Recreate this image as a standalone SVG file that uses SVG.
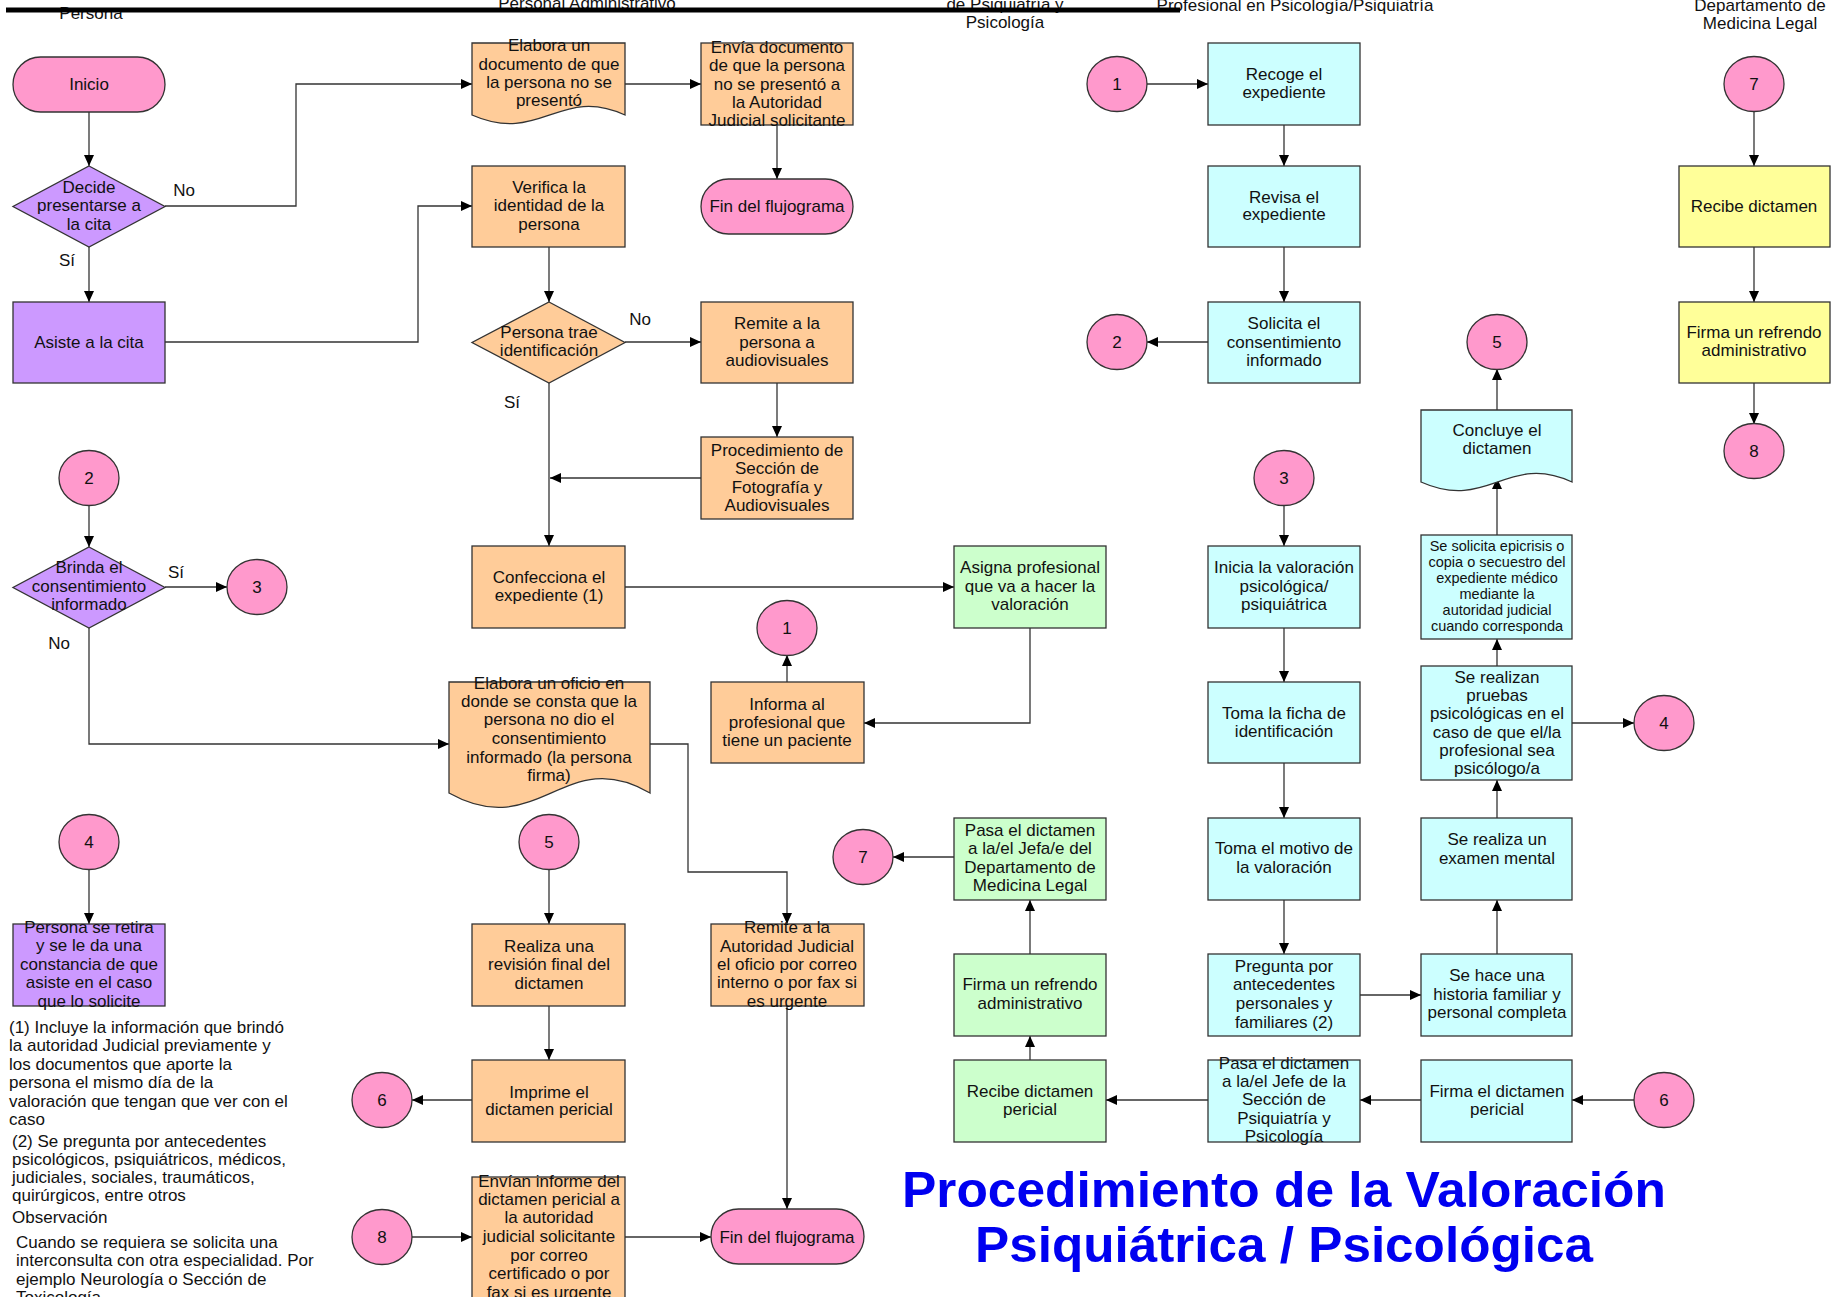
<svg xmlns="http://www.w3.org/2000/svg" width="1838" height="1297" viewBox="0 0 1838 1297">
<style>
text{font-family:"Liberation Sans",Arial,sans-serif;font-size:17px;fill:#111}
.c{text-anchor:middle}
.sm{font-size:14.5px}
.bx{stroke:#333;stroke-width:1.3}
.pk{fill:#FF99CC}.pu{fill:#CC99FF}.or{fill:#FFCC99}.cy{fill:#CCFFFF}.gr{fill:#CCFFCC}.ye{fill:#FFFF99}
.ln{fill:none;stroke:#333;stroke-width:1.3;marker-end:url(#ah)}
.title{font-size:50px;font-weight:bold;fill:#0000F0;text-anchor:middle}
</style>
<defs>
<marker id="ah" markerUnits="userSpaceOnUse" markerWidth="11" markerHeight="10" refX="11" refY="5" orient="auto">
<path d="M0,0 L11,5 L0,10 Z" fill="#000"/>
</marker>
</defs>
<rect width="1838" height="1297" fill="#fff"/>

<g id="headers">
<text class="c" x="91" y="19">Persona</text>
<text class="c" x="587" y="9">Personal Administrativo</text>
<text class="c" x="1005" y="10">de Psiquiatría y</text>
<text class="c" x="1005" y="28">Psicología</text>
<text class="c" x="1295" y="11">Profesional en Psicología/Psiquiatría</text>
<text class="c" x="1760" y="11">Departamento de</text>
<text class="c" x="1760" y="29">Medicina Legal</text>
<line x1="6" y1="10" x2="1180" y2="10" stroke="#000" stroke-width="5"/>
</g>

<g id="connectors">
<path class="ln" d="M89,112 V166"/>
<path class="ln" d="M89,247 V302"/>
<path class="ln" d="M165,206 H296 V84 H472"/>
<path class="ln" d="M165,342 H418 V206 H472"/>
<path class="ln" d="M625,84 H701"/>
<path class="ln" d="M777,125 V179"/>
<path class="ln" d="M549,247 V302"/>
<path class="ln" d="M625,342 H701"/>
<path class="ln" d="M777,383 V437"/>
<path class="ln" d="M701,478 H550"/>
<path class="ln" d="M549,383 V546"/>
<path class="ln" d="M89,506 V547"/>
<path class="ln" d="M165,587 H227"/>
<path class="ln" d="M89,628 V744 H449"/>
<path class="ln" d="M625,587 H954"/>
<path class="ln" d="M1030,628 V723 H864"/>
<path class="ln" d="M787,682 V655"/>
<path class="ln" d="M650,744 H688 V872 H787 V924"/>
<path class="ln" d="M787,1006 V1209"/>
<path class="ln" d="M89,870 V924"/>
<path class="ln" d="M549,870 V924"/>
<path class="ln" d="M549,1006 V1060"/>
<path class="ln" d="M472,1100 H412"/>
<path class="ln" d="M412,1237 H472"/>
<path class="ln" d="M625,1237 H711"/>
<path class="ln" d="M1147,84 H1208"/>
<path class="ln" d="M1284,125 V166"/>
<path class="ln" d="M1284,247 V302"/>
<path class="ln" d="M1208,342 H1147"/>
<path class="ln" d="M1284,506 V546"/>
<path class="ln" d="M1284,628 V682"/>
<path class="ln" d="M1284,763 V818"/>
<path class="ln" d="M1284,900 V954"/>
<path class="ln" d="M1360,995 H1421"/>
<path class="ln" d="M1497,954 V900"/>
<path class="ln" d="M1497,818 V780"/>
<path class="ln" d="M1497,666 V639"/>
<path class="ln" d="M1497,535 V478"/>
<path class="ln" d="M1497,410 V369"/>
<path class="ln" d="M1572,723 H1634"/>
<path class="ln" d="M1634,1100 H1572"/>
<path class="ln" d="M1421,1100 H1360"/>
<path class="ln" d="M1208,1100 H1106"/>
<path class="ln" d="M1030,1060 V1036"/>
<path class="ln" d="M1030,954 V900"/>
<path class="ln" d="M954,857 H893"/>
<path class="ln" d="M1754,112 V166"/>
<path class="ln" d="M1754,247 V302"/>
<path class="ln" d="M1754,383 V424"/>
</g>

<g id="labels">
<text class="c" x="184" y="196">No</text>
<text class="c" x="67" y="266">Sí</text>
<text class="c" x="640" y="325">No</text>
<text class="c" x="512" y="408">Sí</text>
<text class="c" x="176" y="578">Sí</text>
<text class="c" x="59" y="649">No</text>
</g>

<!-- Column 1 -->
<g id="inicio"><rect class="bx pk" x="13" y="57" width="152" height="55" rx="27.5"/><text class="c" x="89" y="90">Inicio</text></g>
<g id="decide"><path class="bx pu" d="M89,166 L165,206.5 L89,247 L13,206.5 Z"/><text class="c" x="89"><tspan x="89" y="193">Decide</tspan><tspan x="89" y="211">presentarse a</tspan><tspan x="89" y="230">la cita</tspan></text></g>
<g id="asiste"><rect class="bx pu" x="13" y="302" width="152" height="81"/><text class="c" x="89" y="348">Asiste a la cita</text></g>
<g id="c2a"><ellipse class="bx pk" cx="89" cy="478" rx="30" ry="27.5"/><text class="c" x="89" y="484">2</text></g>
<g id="brinda"><path class="bx pu" d="M89,547 L165,587.5 L89,628 L13,587.5 Z"/><text class="c"><tspan x="89" y="573">Brinda el</tspan><tspan x="89" y="592">consentimiento</tspan><tspan x="89" y="610">informado</tspan></text></g>
<g id="c3a"><ellipse class="bx pk" cx="257" cy="587" rx="30" ry="27.5"/><text class="c" x="257" y="593">3</text></g>
<g id="c4a"><ellipse class="bx pk" cx="89" cy="842" rx="30" ry="27.5"/><text class="c" x="89" y="848">4</text></g>
<g id="retira"><rect class="bx pu" x="13" y="924" width="152" height="82"/><text class="c"><tspan x="89" y="933">Persona se retira</tspan><tspan x="89" y="951">y se le da una</tspan><tspan x="89" y="970">constancia de que</tspan><tspan x="89" y="988">asiste en el caso</tspan><tspan x="89" y="1007">que lo solicite</tspan></text></g>

<g id="notes">
<text><tspan x="9" y="1033">(1) Incluye la información que brindó</tspan><tspan x="9" y="1051">la autoridad Judicial previamente y</tspan><tspan x="9" y="1070">los documentos que aporte la</tspan><tspan x="9" y="1088">persona el mismo día de la</tspan><tspan x="9" y="1107">valoración que tengan que ver con el</tspan><tspan x="9" y="1125">caso</tspan></text>
<text><tspan x="12" y="1147">(2) Se pregunta por antecedentes</tspan><tspan x="12" y="1165">psicológicos, psiquiátricos, médicos,</tspan><tspan x="12" y="1183">judiciales, sociales, traumáticos,</tspan><tspan x="12" y="1201">quirúrgicos, entre otros</tspan></text>
<text x="12" y="1223">Observación</text>
<text><tspan x="16" y="1248">Cuando se requiera se solicita una</tspan><tspan x="16" y="1266">interconsulta con otra especialidad. Por</tspan><tspan x="16" y="1285">ejemplo Neurología o Sección de</tspan><tspan x="16" y="1303">Toxicología</tspan></text>
</g>

<!-- Column 2 -->
<g id="elaboradoc"><path class="bx or" d="M472,43 H625 V115 C560,85 540,145 472,115 Z"/><text class="c"><tspan x="549" y="51">Elabora un</tspan><tspan x="549" y="70">documento de que</tspan><tspan x="549" y="88">la persona no se</tspan><tspan x="549" y="106">presentó</tspan></text></g>
<g id="verifica"><rect class="bx or" x="472" y="166" width="153" height="81"/><text class="c"><tspan x="549" y="193">Verifica la</tspan><tspan x="549" y="211">identidad de la</tspan><tspan x="549" y="230">persona</tspan></text></g>
<g id="trae"><path class="bx or" d="M549,302 L625,342.5 L549,383 L472,342.5 Z"/><text class="c"><tspan x="549" y="338">Persona trae</tspan><tspan x="549" y="356">identificación</tspan></text></g>
<g id="confecciona"><rect class="bx or" x="472" y="546" width="153" height="82"/><text class="c"><tspan x="549" y="583">Confecciona el</tspan><tspan x="549" y="601">expediente (1)</tspan></text></g>
<g id="oficio"><path class="bx or" d="M449,682 H650 V793 C565,743 538,843 449,793 Z"/><text class="c"><tspan x="549" y="689">Elabora un oficio en</tspan><tspan x="549" y="707">donde se consta que la</tspan><tspan x="549" y="725">persona no dio el</tspan><tspan x="549" y="744">consentimiento</tspan><tspan x="549" y="763">informado (la persona</tspan><tspan x="549" y="781">firma)</tspan></text></g>
<g id="c5a"><ellipse class="bx pk" cx="549" cy="842" rx="30" ry="27.5"/><text class="c" x="549" y="848">5</text></g>
<g id="revision"><rect class="bx or" x="472" y="924" width="153" height="82"/><text class="c"><tspan x="549" y="952">Realiza una</tspan><tspan x="549" y="970">revisión final del</tspan><tspan x="549" y="989">dictamen</tspan></text></g>
<g id="imprime"><rect class="bx or" x="472" y="1060" width="153" height="82"/><text class="c"><tspan x="549" y="1098">Imprime el</tspan><tspan x="549" y="1115">dictamen pericial</tspan></text></g>
<g id="c6a"><ellipse class="bx pk" cx="382" cy="1100" rx="30" ry="27.5"/><text class="c" x="382" y="1106">6</text></g>
<g id="c8a"><ellipse class="bx pk" cx="382" cy="1237" rx="30" ry="27.5"/><text class="c" x="382" y="1243">8</text></g>
<g id="envian"><rect class="bx or" x="472" y="1177" width="153" height="130"/><text class="c"><tspan x="549" y="1187">Envían informe del</tspan><tspan x="549" y="1205">dictamen pericial a</tspan><tspan x="549" y="1223">la autoridad</tspan><tspan x="549" y="1242">judicial solicitante</tspan><tspan x="549" y="1261">por correo</tspan><tspan x="549" y="1279">certificado o por</tspan><tspan x="549" y="1298">fax si es urgente</tspan></text></g>

<!-- Column 3 -->
<g id="envia"><rect class="bx or" x="701" y="43" width="152" height="82"/><text class="c"><tspan x="777" y="53">Envía documento</tspan><tspan x="777" y="71">de que la persona</tspan><tspan x="777" y="90">no se presentó a</tspan><tspan x="777" y="108">la Autoridad</tspan><tspan x="777" y="126">Judicial solicitante</tspan></text></g>
<g id="fin1"><rect class="bx pk" x="701" y="179" width="152" height="55" rx="27.5"/><text class="c" x="777" y="212">Fin del flujograma</text></g>
<g id="remitepersona"><rect class="bx or" x="701" y="302" width="152" height="81"/><text class="c"><tspan x="777" y="329">Remite a la</tspan><tspan x="777" y="348">persona a</tspan><tspan x="777" y="366">audiovisuales</tspan></text></g>
<g id="procedimiento"><rect class="bx or" x="701" y="437" width="152" height="82"/><text class="c"><tspan x="777" y="456">Procedimiento de</tspan><tspan x="777" y="474">Sección de</tspan><tspan x="777" y="493">Fotografía y</tspan><tspan x="777" y="511">Audiovisuales</tspan></text></g>
<g id="c1a"><ellipse class="bx pk" cx="787" cy="628" rx="30" ry="27.5"/><text class="c" x="787" y="634">1</text></g>
<g id="informa"><rect class="bx or" x="711" y="682" width="153" height="81"/><text class="c"><tspan x="787" y="710">Informa al</tspan><tspan x="787" y="728">profesional que</tspan><tspan x="787" y="746">tiene un paciente</tspan></text></g>
<g id="remiteautoridad"><rect class="bx or" x="711" y="924" width="153" height="82"/><text class="c"><tspan x="787" y="933">Remite a la</tspan><tspan x="787" y="952">Autoridad Judicial</tspan><tspan x="787" y="970">el oficio por correo</tspan><tspan x="787" y="988">interno o por fax si</tspan><tspan x="787" y="1007">es urgente</tspan></text></g>
<g id="fin2"><rect class="bx pk" x="711" y="1209" width="153" height="55" rx="27.5"/><text class="c" x="787" y="1243">Fin del flujograma</text></g>
<g id="c7a"><ellipse class="bx pk" cx="863" cy="857" rx="30" ry="27.5"/><text class="c" x="863" y="863">7</text></g>

<!-- Column 4 -->
<g id="asigna"><rect class="bx gr" x="954" y="546" width="152" height="82"/><text class="c"><tspan x="1030" y="573">Asigna profesional</tspan><tspan x="1030" y="592">que va a hacer la</tspan><tspan x="1030" y="610">valoración</tspan></text></g>
<g id="pasalegal"><rect class="bx gr" x="954" y="818" width="152" height="82"/><text class="c"><tspan x="1030" y="836">Pasa el dictamen</tspan><tspan x="1030" y="854">a la/el Jefa/e del</tspan><tspan x="1030" y="873">Departamento de</tspan><tspan x="1030" y="891">Medicina Legal</tspan></text></g>
<g id="firmarefrendo1"><rect class="bx gr" x="954" y="954" width="152" height="82"/><text class="c"><tspan x="1030" y="990">Firma un refrendo</tspan><tspan x="1030" y="1009">administrativo</tspan></text></g>
<g id="recibepericial"><rect class="bx gr" x="954" y="1060" width="152" height="82"/><text class="c"><tspan x="1030" y="1097">Recibe dictamen</tspan><tspan x="1030" y="1115">pericial</tspan></text></g>

<!-- Column 5 -->
<g id="c1b"><ellipse class="bx pk" cx="1117" cy="84" rx="30" ry="27.5"/><text class="c" x="1117" y="90">1</text></g>
<g id="recoge"><rect class="bx cy" x="1208" y="43" width="152" height="82"/><text class="c"><tspan x="1284" y="80">Recoge el</tspan><tspan x="1284" y="98">expediente</tspan></text></g>
<g id="revisa"><rect class="bx cy" x="1208" y="166" width="152" height="81"/><text class="c"><tspan x="1284" y="203">Revisa el</tspan><tspan x="1284" y="220">expediente</tspan></text></g>
<g id="solicita"><rect class="bx cy" x="1208" y="302" width="152" height="81"/><text class="c"><tspan x="1284" y="329">Solicita el</tspan><tspan x="1284" y="348">consentimiento</tspan><tspan x="1284" y="366">informado</tspan></text></g>
<g id="c2b"><ellipse class="bx pk" cx="1117" cy="342" rx="30" ry="27.5"/><text class="c" x="1117" y="348">2</text></g>
<g id="c3b"><ellipse class="bx pk" cx="1284" cy="478" rx="30" ry="27.5"/><text class="c" x="1284" y="484">3</text></g>
<g id="inicia"><rect class="bx cy" x="1208" y="546" width="152" height="82"/><text class="c"><tspan x="1284" y="573">Inicia la valoración</tspan><tspan x="1284" y="592">psicológica/</tspan><tspan x="1284" y="610">psiquiátrica</tspan></text></g>
<g id="ficha"><rect class="bx cy" x="1208" y="682" width="152" height="81"/><text class="c"><tspan x="1284" y="719">Toma la ficha de</tspan><tspan x="1284" y="737">identificación</tspan></text></g>
<g id="motivo"><rect class="bx cy" x="1208" y="818" width="152" height="82"/><text class="c"><tspan x="1284" y="854">Toma el motivo de</tspan><tspan x="1284" y="873">la valoración</tspan></text></g>
<g id="pregunta"><rect class="bx cy" x="1208" y="954" width="152" height="82"/><text class="c"><tspan x="1284" y="972">Pregunta por</tspan><tspan x="1284" y="990">antecedentes</tspan><tspan x="1284" y="1009">personales y</tspan><tspan x="1284" y="1028">familiares (2)</tspan></text></g>
<g id="pasajefe"><rect class="bx cy" x="1208" y="1060" width="152" height="82"/><text class="c"><tspan x="1284" y="1069">Pasa el dictamen</tspan><tspan x="1284" y="1087">a la/el Jefe de la</tspan><tspan x="1284" y="1105">Sección de</tspan><tspan x="1284" y="1124">Psiquiatría y</tspan><tspan x="1284" y="1142">Psicología</tspan></text></g>

<!-- Column 6 -->
<g id="c5b"><ellipse class="bx pk" cx="1497" cy="342" rx="30" ry="27.5"/><text class="c" x="1497" y="348">5</text></g>
<g id="concluye"><path class="bx cy" d="M1421,410 H1572 V482 C1508,452 1488,512 1421,482 Z"/><text class="c"><tspan x="1497" y="436">Concluye el</tspan><tspan x="1497" y="454">dictamen</tspan></text></g>
<g id="epicrisis"><rect class="bx cy" x="1421" y="535" width="151" height="104"/><text class="c sm"><tspan x="1497" y="551">Se solicita epicrisis o</tspan><tspan x="1497" y="567">copia o secuestro del</tspan><tspan x="1497" y="583">expediente médico</tspan><tspan x="1497" y="599">mediante la</tspan><tspan x="1497" y="615">autoridad judicial</tspan><tspan x="1497" y="631">cuando corresponda</tspan></text></g>
<g id="pruebas"><rect class="bx cy" x="1421" y="666" width="151" height="114"/><text class="c"><tspan x="1497" y="683">Se realizan</tspan><tspan x="1497" y="701">pruebas</tspan><tspan x="1497" y="719">psicológicas en el</tspan><tspan x="1497" y="738">caso de que el/la</tspan><tspan x="1497" y="756">profesional sea</tspan><tspan x="1497" y="774">psicólogo/a</tspan></text></g>
<g id="c4b"><ellipse class="bx pk" cx="1664" cy="723" rx="30" ry="27.5"/><text class="c" x="1664" y="729">4</text></g>
<g id="examen"><rect class="bx cy" x="1421" y="818" width="151" height="82"/><text class="c"><tspan x="1497" y="845">Se realiza un</tspan><tspan x="1497" y="864">examen mental</tspan></text></g>
<g id="historia"><rect class="bx cy" x="1421" y="954" width="151" height="82"/><text class="c"><tspan x="1497" y="981">Se hace una</tspan><tspan x="1497" y="1000">historia familiar y</tspan><tspan x="1497" y="1018">personal completa</tspan></text></g>
<g id="firmadictamen"><rect class="bx cy" x="1421" y="1060" width="151" height="82"/><text class="c"><tspan x="1497" y="1097">Firma el dictamen</tspan><tspan x="1497" y="1115">pericial</tspan></text></g>
<g id="c6b"><ellipse class="bx pk" cx="1664" cy="1100" rx="30" ry="27.5"/><text class="c" x="1664" y="1106">6</text></g>

<!-- Column 7 -->
<g id="c7b"><ellipse class="bx pk" cx="1754" cy="84" rx="30" ry="27.5"/><text class="c" x="1754" y="90">7</text></g>
<g id="recibedictamen"><rect class="bx ye" x="1679" y="166" width="151" height="81"/><text class="c" x="1754" y="212">Recibe dictamen</text></g>
<g id="firmarefrendo2"><rect class="bx ye" x="1679" y="302" width="151" height="81"/><text class="c"><tspan x="1754" y="338">Firma un refrendo</tspan><tspan x="1754" y="356">administrativo</tspan></text></g>
<g id="c8b"><ellipse class="bx pk" cx="1754" cy="451" rx="30" ry="27.5"/><text class="c" x="1754" y="457">8</text></g>

<g id="title">
<text class="title" x="1284" y="1207" textLength="764" lengthAdjust="spacingAndGlyphs">Procedimiento de la Valoración</text>
<text class="title" x="1284" y="1262" textLength="618" lengthAdjust="spacingAndGlyphs">Psiquiátrica / Psicológica</text>
</g>
</svg>
